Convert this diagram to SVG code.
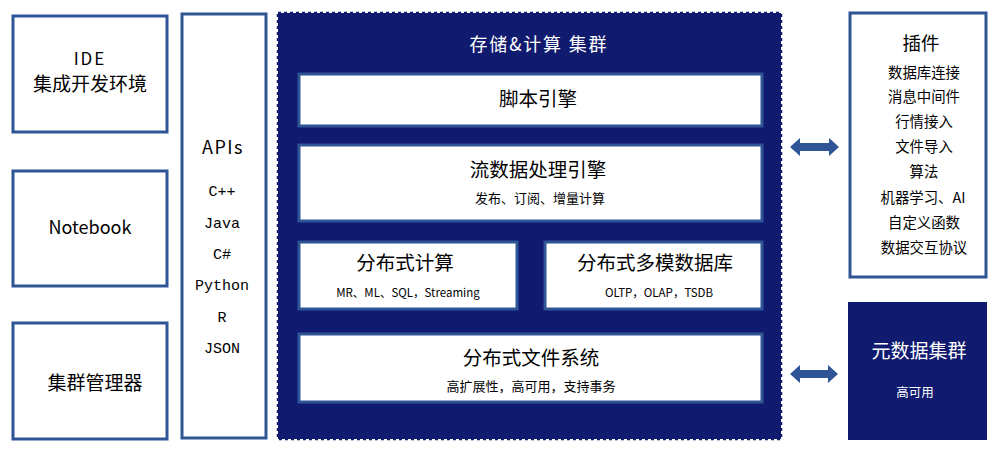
<svg xmlns="http://www.w3.org/2000/svg" width="996" height="451" viewBox="0 0 996 451">
<defs>
<style>
.box{fill:#ffffff;stroke:#2F5597;stroke-width:3}
.t{font-family:"Noto Sans CJK SC","Liberation Sans",sans-serif;fill:#000;text-anchor:middle}
.m{font-family:"Liberation Mono","Noto Sans CJK SC",monospace;fill:#000;text-anchor:middle}
.w{fill:#ffffff}
.arrow{fill:#2F5597}
</style>
</defs>
<rect width="996" height="451" fill="#ffffff"/>
<g id="ide">
<rect class="box" x="13" y="16" width="154" height="116"/>
<text class="t" x="90" y="65" font-size="17" letter-spacing="2">IDE</text>
<text class="t" x="90" y="91" font-size="19">集成开发环境</text>
</g>
<g id="notebook">
<rect class="box" x="13" y="171" width="154" height="115"/>
<text class="t" x="90" y="234" font-size="18">Notebook</text>
</g>
<g id="cluster-manager">
<rect class="box" x="13" y="323" width="154" height="116"/>
<text class="t" x="95" y="390" font-size="19">集群管理器</text>
</g>
<g id="apis">
<rect class="box" x="182" y="14" width="84" height="424"/>
<text class="t" x="223" y="154" font-size="18" letter-spacing="1.5">APIs</text>
<text class="m" x="222" y="196" font-size="15">C++</text>
<text class="m" x="222" y="228" font-size="15">Java</text>
<text class="m" x="222" y="259" font-size="15">C#</text>
<text class="m" x="222" y="290" font-size="15">Python</text>
<text class="m" x="222" y="322" font-size="15">R</text>
<text class="m" x="222" y="353" font-size="15">JSON</text>
</g>
<g id="storage-cluster">
<rect x="278" y="13" width="503" height="426" fill="#101B6F"/>
<rect x="278" y="13" width="503" height="426" fill="none" stroke="#101B6F" stroke-width="2.5" stroke-dasharray="3 3"/>
<text class="t w" x="538" y="51" font-size="18" textLength="137" lengthAdjust="spacing">存储&amp;计算 集群</text>
</g>
<g id="script-engine">
<rect class="box" x="299" y="74" width="463" height="52"/>
<text class="t" x="538" y="106" font-size="19.5">脚本引擎</text>
</g>
<g id="stream-engine">
<rect class="box" x="299" y="145" width="463" height="76"/>
<text class="t" x="538" y="177" font-size="19.5">流数据处理引擎</text>
<text class="t" x="540" y="203" font-size="13">发布、订阅、增量计算</text>
</g>
<g id="dist-compute">
<rect class="box" x="299" y="242" width="218" height="67"/>
<text class="t" x="405" y="270" font-size="19.5">分布式计算</text>
<text class="t" x="408" y="297" font-size="11.5">MR、ML、SQL，Streaming</text>
</g>
<g id="dist-db">
<rect class="box" x="545" y="242" width="217" height="67"/>
<text class="t" x="655" y="270" font-size="19.5">分布式多模数据库</text>
<text class="t" x="659" y="297" font-size="11.5">OLTP，OLAP，TSDB</text>
</g>
<g id="dist-fs">
<rect class="box" x="299" y="334" width="463" height="68"/>
<text class="t" x="531" y="365" font-size="19.5">分布式文件系统</text>
<text class="t" x="531" y="391" font-size="13">高扩展性，高可用，支持事务</text>
</g>
<g id="plugins">
<rect class="box" x="850" y="13" width="136" height="264"/>
<text class="t" x="921" y="50" font-size="18.5">插件</text>
<text class="t" x="924" y="78" font-size="14.4">数据库连接</text>
<text class="t" x="924" y="102" font-size="14.4">消息中间件</text>
<text class="t" x="924" y="127" font-size="14.4">行情接入</text>
<text class="t" x="924" y="152" font-size="14.4">文件导入</text>
<text class="t" x="924" y="177" font-size="14.4">算法</text>
<text class="t" x="923" y="203" font-size="14.4">机器学习、AI</text>
<text class="t" x="924" y="228" font-size="14.4">自定义函数</text>
<text class="t" x="924" y="253" font-size="14.4">数据交互协议</text>
</g>
<g id="metadata-cluster">
<rect x="848" y="302" width="139" height="138" fill="#101B6F"/>
<text class="t w" x="919" y="358" font-size="19">元数据集群</text>
<text class="t w" x="915" y="397" font-size="12.5">高可用</text>
</g>
<g id="connectors">
<polygon class="arrow" points="790,147 800,138 800,143 829,143 829,138 839,147 829,156 829,151 800,151 800,156"/>
<polygon class="arrow" points="790,374 800,365 800,370 828,370 828,365 838,374 828,383 828,378 800,378 800,383"/>
</g>
</svg>
